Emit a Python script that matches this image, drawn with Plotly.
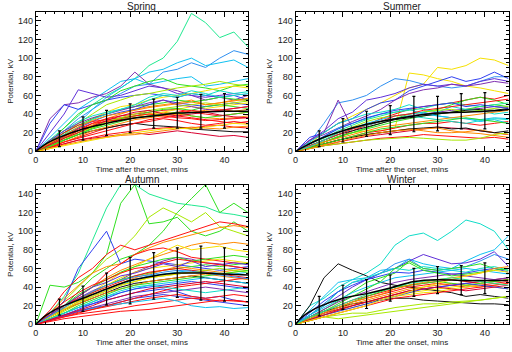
import plotly.graph_objects as go
from plotly.subplots import make_subplots

# ---------------- data ----------------
T = [0, 3, 6, 9, 12, 15, 18, 21, 24, 27, 30, 33, 36, 39, 42, 45]

SPRING_LINES = [
    [0,12,25,38,50,60,68,78,92,100,118,148,138,122,128,112],
    [0,10,22,35,45,55,62,70,72,85,88,95,90,100,108,104],
    [0,8,20,30,45,58,68,78,85,88,95,100,92,95,98,90],
    [0,15,30,45,55,65,75,78,72,75,78,80,70,72,75,78],
    [0,35,50,52,58,62,70,85,72,68,65,60,55,58,55,60],
    [0,30,50,45,50,55,58,60,62,60,58,62,60,58,60,55],
    [0,20,40,66,62,58,60,65,70,68,62,60,58,60,62,60],
    [0,10,25,40,50,55,65,70,75,78,72,70,68,65,70,72],
    [0,8,18,30,40,50,55,60,62,65,68,70,72,75,72,70],
    [0,6,15,25,35,42,48,50,55,58,60,62,65,68,70,68],
    [0,5,12,20,28,35,40,45,48,50,52,55,50,52,55,55],
    [0,5,10,15,20,25,28,30,32,35,33,30,28,30,32,30],
    [0,3,8,12,15,18,20,22,24,25,26,25,27,28,26,25],
    [0,4,8,12,14,16,18,20,18,20,22,20,18,16,17,15],
    [0,6,12,18,22,25,28,30,28,27,26,24,23,22,21,21],
    [0,8,15,22,28,32,35,38,40,42,40,42,44,45,43,45],
    [0,10,20,28,35,40,45,48,50,52,55,53,55,58,56,55],
    [0,12,22,32,38,42,45,48,55,60,58,62,60,65,62,64],
    [0,8,16,25,32,38,42,45,50,55,52,50,48,50,52,50],
    [0,6,14,22,30,35,38,40,42,44,45,42,40,38,40,42],
    [0,5,10,16,22,26,30,34,36,38,40,38,36,35,36,38],
    [0,6,12,20,25,30,35,38,40,42,45,48,46,48,50,52],
    [0,5,12,18,25,30,35,38,42,45,46,44,48,50,48,46],
    [0,10,20,28,32,34,36,38,40,38,36,35,33,34,35,36],
    [0,12,22,30,36,40,44,48,52,55,50,48,45,44,46,48],
    [0,8,14,20,26,32,36,40,44,46,48,50,52,50,52,54],
    [0,4,10,14,18,22,26,30,34,36,38,36,34,32,30,32],
    [0,3,7,10,13,15,17,18,20,22,24,26,25,24,26,27],
    [0,3,6,9,12,15,18,20,22,24,25,24,26,28,30,29],
    [0,10,18,26,34,40,45,50,58,62,60,65,62,58,60,62],
    [0,8,16,24,30,32,34,36,38,40,42,44,42,44,46,48],
    [0,6,12,18,24,28,32,36,38,40,42,38,36,38,40,42],
    [0,7,14,20,27,33,38,42,44,40,38,40,42,39,37,36],
    [0,9,17,26,33,38,41,44,47,49,51,53,50,52,54,57],
]
SPRING_COLORS = ["sgreen","lblue","cyan","cyan","purple","blue","violet","green","ygreen","yellow",
                 "orange","red","red","crimson","black","orange","green","teal","blue","red",
                 "orange","yellow","green","red","purple","ygreen","red","orange","yellow","teal",
                 "red","green","crimson","orange"]

SUMMER_LINES = [
    [0,8,20,30,38,45,52,60,68,72,90,88,92,100,98,92],
    [0,4,10,16,20,22,22,25,84,82,78,75,70,68,65,62],
    [0,10,30,52,55,60,70,78,76,72,70,68,70,75,80,80],
    [0,15,20,30,35,45,52,55,65,70,75,80,75,78,85,78],
    [0,12,22,35,42,55,58,62,68,72,70,72,70,75,78,75],
    [0,12,18,25,32,38,45,55,62,66,68,72,70,72,75,73],
    [0,12,20,55,25,28,32,35,38,40,42,44,45,46,48,47],
    [0,5,10,15,22,28,35,40,45,48,50,52,55,58,56,60],
    [0,4,8,12,16,20,22,25,28,30,30,32,30,28,30,32],
    [0,3,6,10,13,16,18,20,22,24,26,25,24,22,20,18],
    [0,3,6,8,10,12,14,15,16,18,17,16,15,14,15,13],
    [0,4,8,12,16,18,20,22,24,22,20,20,21,23,20,18],
    [0,5,10,15,20,25,30,35,40,42,45,50,55,58,55,50],
    [0,3,6,8,10,12,13,14,15,14,13,12,12,14,18,20],
    [0,5,10,16,20,24,28,32,35,38,40,42,45,48,50,48],
    [0,8,16,25,30,35,40,42,45,40,38,36,35,34,36,35],
    [0,10,20,30,35,40,42,45,50,45,42,48,45,44,40,42],
    [0,6,12,18,22,26,30,34,36,38,40,42,44,45,44,46],
    [0,4,8,12,15,18,20,22,24,25,26,24,25,22,20,22],
    [0,6,12,20,26,32,36,38,40,42,44,45,42,44,46,48],
    [0,8,14,22,28,34,38,42,44,46,50,52,50,48,50,52],
    [0,6,12,18,24,30,34,38,40,42,38,36,35,32,34,30],
    [0,6,12,18,24,28,32,38,40,44,46,48,50,52,54,56],
    [0,5,10,14,18,22,26,28,30,32,34,36,38,40,42,44],
    [0,8,16,24,30,36,40,44,46,48,50,52,48,50,48,46],
    [0,4,8,12,16,20,24,26,28,30,32,34,36,34,32,30],
    [0,5,12,20,25,28,32,35,38,36,34,32,30,33,35,34],
    [0,3,7,10,14,17,20,22,23,24,25,22,20,19,17,15],
]
SUMMER_COLORS = ["yellow","yellow","lblue","blue","violet","purple","purple","red","red","crimson",
                 "red","orange","green","ygreen","green","cyan","teal","black","black","ygreen",
                 "sgreen","cyan","red","orange","blue","green","teal","orange"]

AUTUMN_LINES = [
    [0,42,40,45,55,75,130,150,108,110,115,100,95,100,110,100],
    [0,12,30,55,90,125,150,150,140,135,130,128,126,120,118,115],
    [0,8,20,35,50,60,70,75,85,100,120,135,150,120,130,120],
    [0,10,25,40,55,70,80,95,115,125,118,110,120,105,100,95],
    [0,10,25,60,80,100,65,70,68,66,64,62,60,58,60,62],
    [0,15,35,50,60,75,85,80,85,90,95,100,105,110,108,105],
    [0,12,28,42,55,62,65,75,82,88,92,96,100,104,106,104],
    [0,10,20,30,40,55,65,75,80,82,78,72,70,68,66,65],
    [0,8,18,30,40,50,58,64,70,75,80,85,88,86,88,86],
    [0,6,15,25,35,45,55,62,70,78,85,80,82,84,80,78],
    [0,8,18,28,36,42,48,56,62,68,72,70,66,65,62,60],
    [0,10,20,32,40,48,56,62,66,70,72,68,70,72,74,72],
    [0,8,16,24,30,36,42,48,52,54,56,58,56,55,54,56],
    [0,6,12,18,22,26,30,34,36,38,35,30,28,30,26,24],
    [0,5,10,14,18,20,24,28,30,32,30,28,26,24,22,20],
    [0,4,8,11,13,15,17,20,22,24,26,28,27,25,26,24],
    [0,5,9,13,16,19,22,25,28,30,32,30,28,30,32,30],
    [0,5,10,14,17,20,22,24,26,28,25,20,18,19,17,18],
    [0,8,16,22,28,34,40,44,46,48,50,52,50,48,46,44],
    [0,8,18,26,34,42,48,52,55,58,60,62,64,62,64,66],
    [0,10,18,26,34,42,50,56,60,62,64,66,68,70,68,66],
    [0,8,16,24,32,38,44,50,54,58,62,60,58,56,58,60],
    [0,10,20,28,34,40,46,52,56,58,60,58,56,54,52,50],
    [0,6,14,22,30,36,42,46,50,52,54,56,58,60,58,56],
    [0,6,12,18,24,30,34,38,42,44,46,48,50,48,46,44],
    [0,5,10,16,22,28,34,38,40,42,44,46,44,42,40,38],
    [0,4,9,14,18,22,26,30,32,34,36,38,40,38,36,34],
    [0,8,16,22,28,34,38,42,46,48,50,52,54,52,50,48],
    [0,4,8,12,16,20,24,28,32,36,40,42,44,46,48,50],
    [0,8,16,24,30,36,42,46,50,52,54,56,55,54,56,58],
    [0,6,12,20,26,32,38,42,44,46,48,50,52,54,56,58],
    [0,6,12,18,24,30,36,40,42,40,38,36,34,36,38,40],
    [0,5,10,15,20,26,30,34,38,40,42,44,46,44,42,40],
    [0,3,6,8,10,12,14,15,16,18,20,22,24,26,25,24],
    [0,10,20,30,40,45,52,55,60,65,62,68,62,64,66,64],
    [0,12,24,34,42,48,55,60,62,66,70,68,66,64,62,60],
    [0,9,18,27,35,42,47,51,53,56,58,57,55,53,51,49],
]
AUTUMN_COLORS = ["green","sgreen","green","ygreen","blue","red","orange","red","orange","yellow",
                 "purple","green","cyan","blue","blue","red","red","cyan","black","green",
                 "yellow","orange","red","ygreen","cyan","blue","purple","orange","red","yellow",
                 "green","teal","crimson","red","violet","red","lblue"]

WINTER_LINES = [
    [0,20,28,40,48,55,65,85,95,98,90,100,112,108,100,80],
    [0,20,50,65,58,52,45,42,40,38,36,34,30,32,30,28],
    [0,8,14,18,22,24,26,28,28,26,25,24,23,22,22,21],
    [0,15,30,45,48,50,58,60,70,65,62,60,68,75,80,95],
    [0,10,22,35,45,48,55,65,70,60,58,60,62,68,75,70],
    [0,10,20,30,40,48,55,60,68,75,70,65,66,70,78,62],
    [0,8,16,25,35,45,50,55,68,60,58,60,62,65,60,58],
    [0,10,20,35,45,50,55,60,58,62,60,58,56,60,62,58],
    [0,12,25,35,42,48,52,56,55,58,56,54,55,58,60,56],
    [0,6,12,18,24,28,32,36,40,42,44,42,40,42,44,46],
    [0,8,14,20,26,30,34,38,42,44,46,48,46,44,46,48],
    [0,6,10,16,22,26,30,34,38,40,42,44,42,40,42,44],
    [0,5,10,14,18,22,28,32,34,36,38,40,42,44,46,48],
    [0,4,8,10,12,12,15,18,20,22,22,24,25,26,28,30],
    [0,4,8,6,8,10,12,14,16,18,20,22,24,26,28,30],
    [0,5,10,15,20,24,28,30,32,34,35,38,40,42,40,38],
    [0,6,12,18,24,30,35,40,42,44,46,44,42,44,46,48],
    [0,6,12,16,20,24,28,32,36,38,40,42,44,46,48,50],
    [0,4,8,12,16,20,24,28,30,32,34,36,38,40,42,44],
    [0,5,10,14,18,22,26,30,34,38,40,42,44,42,40,38],
    [0,8,16,24,30,35,40,45,48,50,52,54,52,50,48,50],
    [0,10,18,26,34,40,45,50,52,54,56,58,60,58,56,54],
    [0,6,14,22,30,38,46,60,66,58,55,52,54,56,58,60],
    [0,6,12,18,24,28,32,38,42,45,48,50,52,55,60,62],
    [0,5,10,15,20,24,28,32,36,38,40,38,36,38,40,42],
    [0,4,8,12,16,20,26,30,35,40,44,48,52,55,58,56],
    [0,8,14,20,26,32,36,40,44,46,48,50,48,46,44,42],
]
WINTER_COLORS = ["teal","black","black","cyan","lblue","violet","green","teal","blue","red",
                 "red","orange","yellow","ygreen","ygreen","yellow","green","crimson","red","blue",
                 "purple","cyan","green","orange","crimson","yellow","sgreen"]

# mean curves and error bar ranges
MEAN_T = [0, 1, 2.5, 5, 10, 15, 20, 25, 30, 35, 40, 45]
SPRING_MEAN = [0, 4, 9, 15, 24, 30, 35, 38, 41, 42, 43, 43]
SUMMER_MEAN = [0, 3, 7, 13, 22, 29, 34, 38, 41, 42, 43, 45]
AUTUMN_MEAN = [0, 5, 11, 18, 28, 38, 47, 52, 55, 55, 54, 53]
WINTER_MEAN = [0, 6, 12, 19, 28, 33, 39, 46, 48, 47, 47, 47]

ERR_T = [5, 10, 15, 20, 25, 30, 35, 40]
SPRING_LO = [5, 12, 17, 20, 25, 25, 25, 25]
SPRING_HI = [22, 37, 44, 51, 56, 58, 61, 62]
SUMMER_LO = [5, 10, 16, 18, 21, 22, 24, 24]
SUMMER_HI = [22, 35, 43, 49, 59, 59, 62, 63]
AUTUMN_LO = [10, 14, 21, 22, 27, 29, 26, 25]
AUTUMN_HI = [27, 41, 55, 72, 77, 82, 84, 82]
WINTER_LO = [9, 16, 17, 25, 30, 33, 32, 33]
WINTER_HI = [30, 42, 48, 53, 60, 62, 63, 66]

TITLES = ["Spring", "Summer", "Autumn", "Winter"]
X_TICKS = [0, 10, 20, 30, 40]
Y_TICKS = [0, 20, 40, 60, 80, 100, 120, 140]

PALETTE = {
    "red": "#ff1010", "crimson": "#d80030", "orange": "#ff8a00", "yellow": "#f5e000",
    "ygreen": "#a8e800", "green": "#30e020", "sgreen": "#20e890", "teal": "#10dcc8",
    "cyan": "#10c0f0", "lblue": "#3090f0", "blue": "#3040f0", "violet": "#6030d8",
    "purple": "#8030b0", "black": "#101010",
}

# ---------------- figure ----------------
fig = make_subplots(rows=2, cols=2, horizontal_spacing=0.09, vertical_spacing=0.1)

XD = [[0.0645, 0.4814], [0.5748, 0.9932]]
YD = [[0.5639, 0.9668], [0.0653, 0.4679]]

panels = [
    (SPRING_LINES, SPRING_COLORS, SPRING_MEAN, SPRING_LO, SPRING_HI),
    (SUMMER_LINES, SUMMER_COLORS, SUMMER_MEAN, SUMMER_LO, SUMMER_HI),
    (AUTUMN_LINES, AUTUMN_COLORS, AUTUMN_MEAN, AUTUMN_LO, AUTUMN_HI),
    (WINTER_LINES, WINTER_COLORS, WINTER_MEAN, WINTER_LO, WINTER_HI),
]

FONT = "Liberation Sans, Arial, sans-serif"

for i, (lines, cols, mean, lo, hi) in enumerate(panels):
    r, c = i // 2 + 1, i % 2 + 1
    for vals, col in zip(lines, cols):
        fig.add_trace(go.Scatter(x=T, y=vals, mode="lines",
                                 line=dict(color=PALETTE[col], width=1),
                                 showlegend=False, hoverinfo="skip", cliponaxis=True),
                      row=r, col=c)
    fig.add_trace(go.Scatter(x=MEAN_T, y=mean, mode="lines", line_shape="spline",
                             line=dict(color="black", width=1.5), showlegend=False),
                  row=r, col=c)
    mid = [(a + b) / 2 for a, b in zip(lo, hi)]
    fig.add_trace(go.Scatter(x=ERR_T, y=mid, mode="markers",
                             marker=dict(size=1, color="black", opacity=0),
                             error_y=dict(type="data", symmetric=False,
                                          array=[h - m for h, m in zip(hi, mid)],
                                          arrayminus=[m - l for m, l in zip(mid, lo)],
                                          color="black", thickness=1.2, width=1.5),
                             showlegend=False), row=r, col=c)

axis_common = dict(showline=True, linecolor="black", linewidth=1, mirror="allticks",
                   ticks="inside", ticklen=5, tickcolor="black", showgrid=False, zeroline=False,
                   tickfont=dict(family=FONT, size=9, color="#222"))

for i in range(4):
    r, c = i // 2, i % 2
    idx = "" if i == 0 else str(i + 1)
    fig.layout["xaxis" + idx].update(
        domain=XD[c], range=[0, 45], tickvals=X_TICKS,
        minor=dict(dtick=2, ticklen=2.5, ticks="inside", tickcolor="black"),
        title=dict(text="Time after the onset, mins", standoff=1,
                   font=dict(family=FONT, size=8, color="#222")),
        **axis_common)
    fig.layout["yaxis" + idx].update(
        domain=YD[r], range=[0, 150], tickvals=Y_TICKS,
        minor=dict(dtick=5, ticklen=2.5, ticks="inside", tickcolor="black"),
        title=dict(text="Potential, kV", standoff=3,
                   font=dict(family=FONT, size=8, color="#222")),
        **axis_common)
    fig.add_annotation(text=TITLES[i], x=(XD[c][0] + XD[c][1]) / 2, y=YD[r][1],
                       xref="paper", yref="paper", xanchor="center", yanchor="bottom",
                       yshift=-2, showarrow=False,
                       font=dict(family=FONT, size=10, color="#222"))

fig.update_layout(width=512, height=352, margin=dict(l=0, r=0, t=0, b=0),
                  plot_bgcolor="white", paper_bgcolor="white", showlegend=False)

fig.write_html("out.html")
